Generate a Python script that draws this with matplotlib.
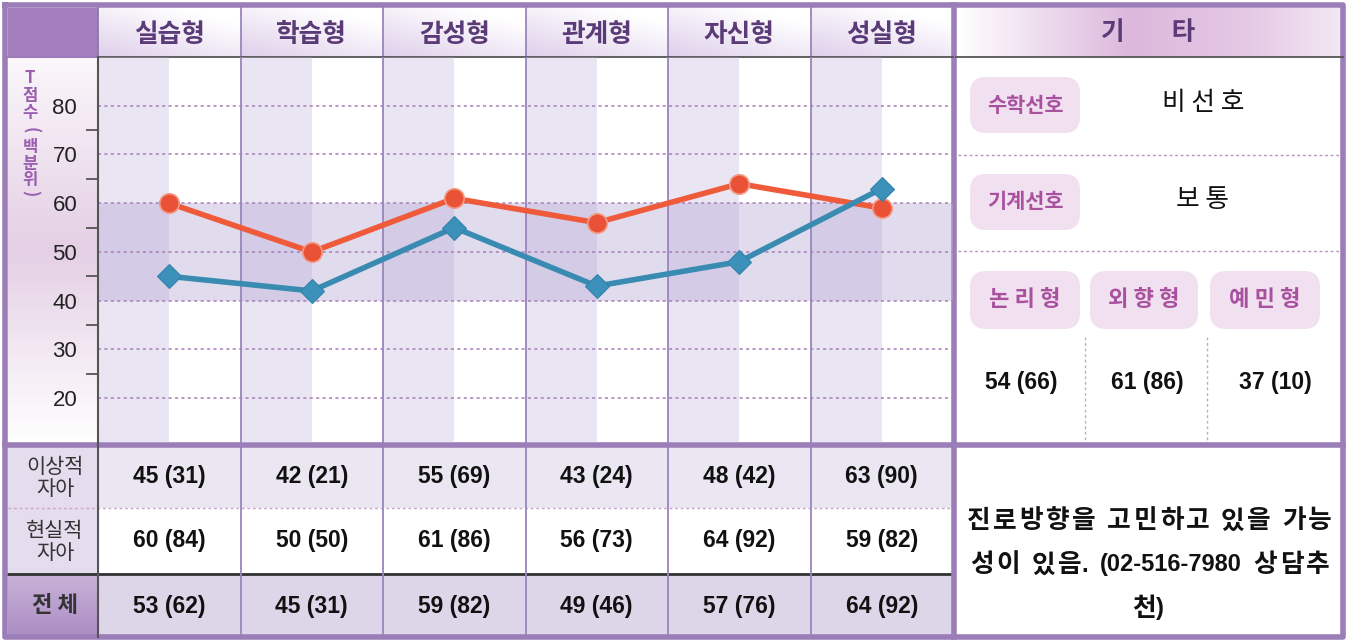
import numpy as np
import matplotlib
matplotlib.use("Agg")
import matplotlib.pyplot as plt
from matplotlib.patches import Rectangle, FancyBboxPatch

# ---- data ----
categories = ['실습형', '학습형', '감성형', '관계형', '자신형', '성실형']
ideal_t = [45, 42, 55, 43, 48, 63]
ideal_pct = [31, 21, 69, 24, 42, 90]
real_t = [60, 50, 61, 56, 64, 59]
real_pct = [84, 50, 86, 73, 92, 82]
total_t = [53, 45, 59, 49, 57, 64]
total_pct = [62, 31, 82, 46, 76, 92]
row_labels = ['이상적\n자아', '현실적\n자아', '전 체']
y_ticks = [20, 30, 40, 50, 60, 70, 80]

pref_labels = ['수학선호', '기계선호']
pref_values = ['비 선 호', '보 통']
type_labels = ['논 리 형', '외 향 형', '예 민 형']
type_t = [54, 61, 37]
type_pct = [66, 86, 10]
comment_lines = ['진로방향을 고민하고 있을 가능',
                 '성이 있음. (02-516-7980 상담추',
                 '천)']

KR = ['Noto Sans CJK KR', 'DejaVu Sans']
NUM = ['Liberation Sans', 'DejaVu Sans']
PURPLE = '#9b7db8'
HEAD_TXT = '#5a3b78'

W, H = 1347, 640
fig = plt.figure(figsize=(W / 100, H / 100), dpi=100)
ax = fig.add_axes([0, 0, 1, 1])
ax.set_xlim(0, W)
ax.set_ylim(H, 0)
ax.axis('off')


def hex2rgb(h):
    h = h.lstrip('#')
    return np.array([int(h[i:i + 2], 16) for i in (0, 2, 4)]) / 255.0


def grad_box(x0, y0, x1, y1, stops, direction='v', z=1):
    # stops: list of (pos, color)
    t = np.linspace(0, 1, 128)
    pos = [s[0] for s in stops]
    cols = np.array([hex2rgb(s[1]) for s in stops])
    arr = np.stack([np.interp(t, pos, cols[:, k]) for k in range(3)], axis=-1)
    img = arr[:, None, :] if direction == 'v' else arr[None, :, :]
    ax.imshow(img, extent=(x0, x1, y1, y0), aspect='auto',
              interpolation='bilinear', zorder=z)


def box(x0, y0, x1, y1, color, z=1):
    ax.add_patch(Rectangle((x0, y0), x1 - x0, y1 - y0, facecolor=color,
                           edgecolor='none', zorder=z))


col_edges = np.linspace(98, 953, 7)

# header row
box(8, 8, 98, 57, '#a47fbd')
for i in range(6):
    x0, x1 = col_edges[i], col_edges[i + 1]
    t = np.linspace(0, 1, 64)
    xx, yy = np.meshgrid(t, t)
    w = np.clip(0.6 * yy + 0.45 * (1 - xx) - 0.2, 0, 1)
    lav = hex2rgb('#d9c7e7')
    img = (1 - w)[..., None] * np.ones(3) + w[..., None] * lav
    ax.imshow(img, extent=(x0, x1, 57, 8), aspect='auto',
              interpolation='bilinear', zorder=1)
    ax.text((x0 + x1) / 2, 34, categories[i], ha='center', va='center',
            fontsize=18.5, fontweight='bold', color=HEAD_TXT, family=KR, zorder=5)

grad_box(956, 8, 1343, 57, [(0, '#ffffff'), (0.45, '#dcb8dc'),
                            (0.75, '#e4c8e4'), (1, '#f3e8f3')], 'h')
ax.text(1148, 33, '기        타', ha='center', va='center', fontsize=18.5,
        fontweight='bold', color=HEAD_TXT, family=KR, zorder=5)

# left label column of chart
grad_box(8, 57, 98, 443, [(0, '#fbf7fb'), (0.5, '#e4cfe4'), (1, '#ffffff')], 'v')
ychars = ['T', '점', '수', '(', '백', '분', '위', ')']
ypos = [78, 96, 113, 130, 147, 164, 180, 193]
for ch, yy_ in zip(ychars, ypos):
    rot = -90 if ch in '()' else 0
    ax.text(30, yy_, ch, ha='center', va='center', fontsize=12,
            color='#9a5fb0', family=KR, rotation=rot, fontweight='bold', zorder=5)

# chart
cax = fig.add_axes([98 / W, (H - 443) / H, (953 - 98) / W, (443 - 57) / H])
cax.set_zorder(2)
cax.set_xlim(0, 6)
cax.set_ylim(10.8, 90)
cax.patch.set_alpha(0)
shade = '#b9aad7'
for i in range(6):
    cax.axvspan(i, i + 0.5, color=shade, alpha=0.3, lw=0, zorder=0)
cax.axhspan(40, 60, color=shade, alpha=0.42, lw=0, zorder=0)
for v in y_ticks:
    cax.axhline(v, color='#a77fb5', lw=1.1, ls=(0, (2, 2.2)), zorder=1)
for i in range(1, 6):
    cax.axvline(i, color='#9a85bb', lw=1.3, zorder=1)

xs = np.arange(6) + 0.5
cax.plot(xs, real_t, color='#ef5a3b', lw=4, zorder=3, solid_capstyle='round')
cax.plot(xs, ideal_t, color='#3a8bb1', lw=4, zorder=4, solid_capstyle='round')
cax.plot(xs, real_t, ls='none', marker='o', ms=14, mfc='#ea5237',
         mec='#f49a85', mew=1.2, zorder=5)
cax.plot(xs, ideal_t, ls='none', marker='D', ms=12, mfc='#3b91ba',
         mec='#3283aa', mew=0.8, zorder=6)

cax.set_xticks([])
cax.set_yticks(y_ticks)
cax.set_yticklabels([str(v) for v in y_ticks], family=NUM, fontsize=16, color='#222222')
cax.set_yticks([25, 35, 45, 55, 65, 75], minor=True)
cax.tick_params(axis='y', which='major', length=0, pad=15)
cax.tick_params(axis='y', which='minor', length=9, width=1.3, color='#555555', direction='out')
for s in ['top', 'right', 'bottom']:
    cax.spines[s].set_visible(False)
cax.spines['left'].set_color('#555555')
cax.spines['left'].set_linewidth(1.5)

# bottom table
box(8, 443, 98, 573, '#e5ddee')
box(98, 443, 953, 508, '#ebe7f2')
box(98, 508, 953, 573, '#ffffff')
box(98, 573, 953, 637, '#ddd5e8')
grad_box(8, 573, 98, 637, [(0, '#c9b3d8'), (1, '#ab8cc4')], 'v')
ax.plot([8, 953], [508, 508], color='#c9a5cc', lw=1, ls=(0, (2, 2)), zorder=3)
ax.plot([8, 953], [574, 574], color='#333333', lw=2, zorder=3)

row_vals = [(ideal_t, ideal_pct), (real_t, real_pct), (total_t, total_pct)]
row_y = [477, 541, 606]
for r, (tv, pv) in enumerate(row_vals):
    if r < 2:
        ax.text(55, row_y[r] + 1, row_labels[r], ha='center', va='center', fontsize=15,
                color='#333333', family=KR, linespacing=0.95, zorder=5)
    else:
        ax.text(55, row_y[r], row_labels[r], ha='center', va='center', fontsize=16,
                fontweight='bold', color='#333333', family=KR, zorder=5)
    for i in range(6):
        ax.text((col_edges[i] + col_edges[i + 1]) / 2, row_y[r], f'{tv[i]} ({pv[i]})',
                ha='center', va='center', fontsize=16.5, fontweight='bold',
                color='#111111', family=NUM, zorder=5)

for i in range(1, 6):
    ax.plot([col_edges[i]] * 2, [8, 57], color='#9a85bb', lw=1.3, zorder=3)
    ax.plot([col_edges[i]] * 2, [443, 637], color='#9a85bb', lw=1.3, zorder=3)

# right panel
box(956, 57, 1343, 637, '#ffffff', z=0.5)
ax.plot([958, 1340], [155, 155], color='#b592c0', lw=1, ls=(0, (2, 2)), zorder=3)
ax.plot([958, 1340], [251, 251], color='#b592c0', lw=1, ls=(0, (2, 2)), zorder=3)
for x in [1085, 1207]:
    ax.plot([x, x], [337, 443], color='#c6a8cc', lw=1, ls=(0, (2, 2)), zorder=3)


def pill(x0, y0, x1, y1, label, fs=15):
    ax.add_patch(FancyBboxPatch((x0, y0), x1 - x0, y1 - y0,
                                boxstyle='round,pad=0,rounding_size=16',
                                facecolor='#f1e0ef', edgecolor='none', zorder=3))
    ax.text((x0 + x1) / 2, (y0 + y1) / 2, label, ha='center', va='center', fontsize=fs,
            fontweight='bold', color='#a8519f', family=KR, zorder=5)


for k, (lab, val) in enumerate(zip(pref_labels, pref_values)):
    yc = 105 + k * 97
    pill(970, yc - 28, 1080, yc + 28, lab)
    ax.text(1203, yc - 2, val, ha='center', va='center',
            fontsize=18.5, color='#111111', family=KR, zorder=5)

type_x = [(970, 1080), (1090, 1198), (1210, 1320)]
type_vx = [1021, 1147, 1275]
for k in range(3):
    pill(type_x[k][0], 271, type_x[k][1], 329, type_labels[k], fs=16)
    ax.text(type_vx[k], 382, f'{type_t[k]} ({type_pct[k]})', ha='center', va='center',
            fontsize=16.5, fontweight='bold', color='#111111', family=NUM, zorder=5)

# justified comment text: hangul placed one by one, ascii runs kept together,
# '.' and ')' glued to the previous token
renderer = fig.canvas.get_renderer()


def tokens(line):
    out, buf = [], ''
    for ch in line:
        if ord(ch) < 128 and ch != ' ':
            buf += ch
            continue
        if buf:
            out.append((buf, buf[0] in '.)'))
            buf = ''
        out.append((ch, False))
    if buf:
        out.append((buf, buf[0] in '.)'))
    return out


for k, line in enumerate(comment_lines):
    yl = 521 + k * 44
    toks = tokens(line)
    arts, widths = [], []
    for tk, glue in toks:
        if tk == ' ':
            arts.append(None)
            widths.append(6)
            continue
        fam = NUM if ord(tk[0]) < 128 else KR
        fs = 17 if fam is NUM else 18.5
        a = ax.text(0, yl, tk, ha='left', va='center', fontsize=fs, fontweight='bold',
                    color='#111111', family=fam, zorder=5)
        arts.append(a)
        widths.append(a.get_window_extent(renderer).width)
    natural = sum(widths)
    n_gaps = sum(1 for tk, glue in toks[1:] if not glue)
    if k < len(comment_lines) - 1:
        x_start, x_end = (967, 1332) if k == 0 else (970, 1330)
        gap = (x_end - x_start - natural) / max(n_gaps, 1)
        x = x_start
    else:
        gap = 2
        x = 1148 - (natural + gap * n_gaps) / 2
    for j, (a, wd) in enumerate(zip(arts, widths)):
        if j > 0 and not toks[j][1]:
            x += gap
        if a is not None:
            a.set_x(x)
        x += wd

# frame lines
ax.plot([5, 1343, 1343, 5, 5], [5, 5, 637, 637, 5], color=PURPLE, lw=4, zorder=6)
ax.plot([5, 1343], [445, 445], color=PURPLE, lw=4, zorder=6)
ax.plot([954, 954], [5, 637], color=PURPLE, lw=4, zorder=6)
ax.plot([98, 953], [57, 57], color='#555555', lw=1.3, zorder=6)
ax.plot([956, 1343], [57, 57], color='#555555', lw=1.3, zorder=6)
ax.plot([8, 98], [57, 57], color=PURPLE, lw=1.5, zorder=6)
ax.plot([98, 98], [8, 57], color='#8a7aa8', lw=1.3, zorder=6)
ax.plot([98, 98], [443, 637], color='#555555', lw=1.5, zorder=6)

ax.set_xlim(0, W)
ax.set_ylim(H, 0)
fig.savefig('out.png', dpi=100)
